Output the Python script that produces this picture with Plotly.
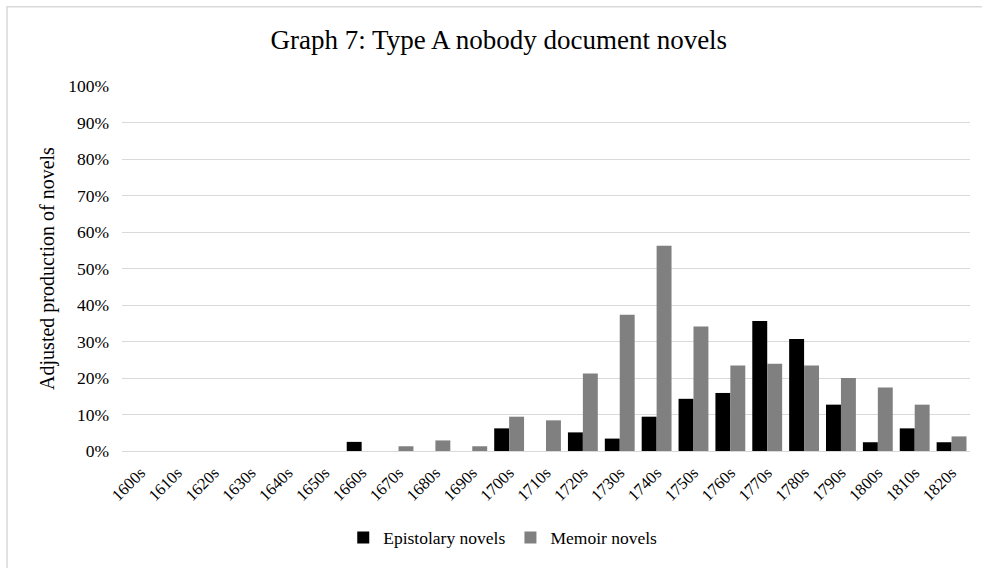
import plotly.graph_objects as go

decades = ["1600s", "1610s", "1620s", "1630s", "1640s", "1650s", "1660s", "1670s",
           "1680s", "1690s", "1700s", "1710s", "1720s", "1730s", "1740s", "1750s",
           "1760s", "1770s", "1780s", "1790s", "1800s", "1810s", "1820s"]

epistolary = [0, 0, 0, 0, 0, 0, 0.025, 0, 0, 0, 0.062, 0, 0.051, 0.034, 0.094,
              0.143, 0.159, 0.356, 0.307, 0.127, 0.024, 0.062, 0.024]
memoir = [0, 0, 0, 0, 0, 0, 0, 0.013, 0.029, 0.013, 0.094, 0.084, 0.212, 0.373,
          0.562, 0.341, 0.234, 0.239, 0.234, 0.200, 0.174, 0.127, 0.040]

y_ticks = [i / 10 for i in range(11)]

FONT = "Liberation Serif, Times New Roman, serif"

fig = go.Figure()
fig.add_trace(go.Bar(x=decades, y=epistolary, name="Epistolary novels",
                     marker=dict(color="#000000", line=dict(width=0))))
fig.add_trace(go.Bar(x=decades, y=memoir, name="Memoir novels",
                     marker=dict(color="#808080", line=dict(width=0))))

# outer chart frame
fig.add_shape(type="rect", xref="paper", yref="paper",
              x0=-0.1356, x1=1.2, y0=-0.5, y1=1.217,
              line=dict(color="#d9d9d9", width=1.5), fillcolor="rgba(0,0,0,0)",
              layer="below")

fig.update_layout(
    width=982, height=568,
    margin=dict(l=122, r=12, t=86, b=116.5),
    paper_bgcolor="white", plot_bgcolor="white",
    font=dict(family=FONT, color="#000000", size=17),
    title=dict(text="Graph 7: Type A nobody document novels",
               x=0.508, xanchor="center", y=0.931, yanchor="middle",
               font=dict(family=FONT, size=27, color="#000000")),
    barmode="group", bargap=0.19, bargroupgap=0,
    showlegend=True,
    legend=dict(orientation="h", x=0.449, xanchor="center", y=-0.237, yanchor="middle",
                font=dict(family=FONT, size=17.5), itemwidth=30,
                traceorder="normal"),
    xaxis=dict(tickangle=-45, showgrid=False, showline=False, ticks="",
               ticklabelstandoff=8,
               tickfont=dict(family=FONT, size=16.5)),
    yaxis=dict(range=[0, 1.0], tickvals=y_ticks, tickformat=".0%",
               showgrid=True, gridcolor="#d9d9d9", gridwidth=1.3,
               zeroline=True, zerolinecolor="#d9d9d9", zerolinewidth=1.3,
               ticks="", ticklabelstandoff=12,
               tickfont=dict(family=FONT, size=17.5),
               title=dict(text="Adjusted production of novels",
                          font=dict(family=FONT, size=20), standoff=8)),
)

fig.write_html("out.html")
